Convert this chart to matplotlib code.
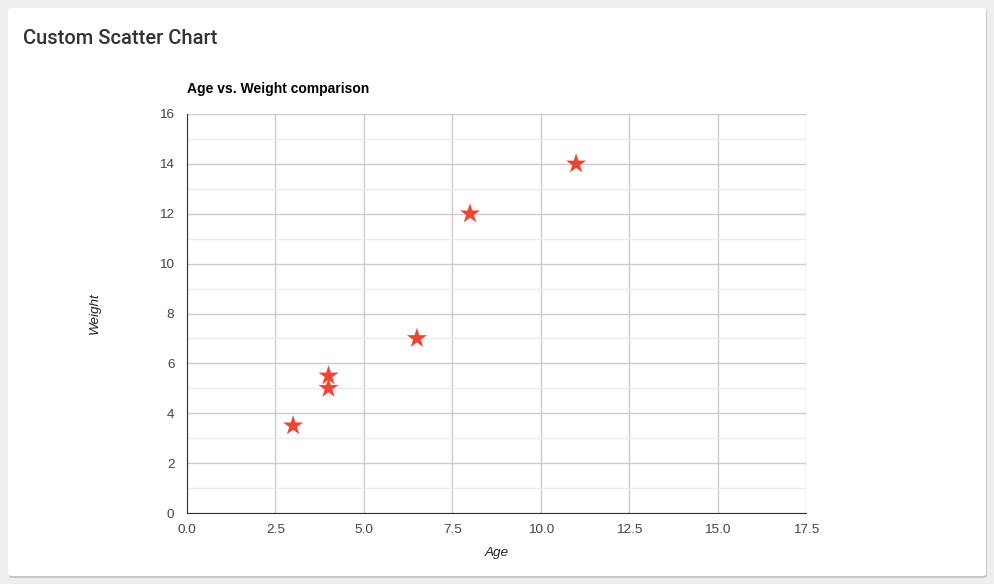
import matplotlib
matplotlib.use('Agg')
import matplotlib.pyplot as plt
from matplotlib.patches import FancyBboxPatch
from matplotlib.ticker import MultipleLocator, FormatStrFormatter

# Data
age = [3, 4, 4, 6.5, 8, 11]
weight = [3.5, 5.5, 5, 7, 12, 14]

W, H = 995, 584
fig = plt.figure(figsize=(W / 100, H / 100), dpi=100)
fig.patch.set_facecolor('#eeeeee')

# card with a soft shadow
shadow = FancyBboxPatch((9 / W, 1 - 578 / H), 978 / W, 569 / H,
                        boxstyle='round,pad=0,rounding_size=0.004',
                        transform=fig.transFigure, facecolor='#c8c8c8',
                        edgecolor='none', zorder=-2)
card = FancyBboxPatch((8 / W, 1 - 576 / H), 978 / W, 568 / H,
                      boxstyle='round,pad=0,rounding_size=0.004',
                      transform=fig.transFigure, facecolor='white',
                      edgecolor='none', zorder=-1)
fig.patches.extend([shadow, card])

fig.text(23 / W, 1 - 38 / H, 'Custom Scatter Chart', fontsize=14.5,
         family='Roboto', fontweight='medium', color='#333333',
         va='center', ha='left')

ax = fig.add_axes([187 / W, 1 - 513 / H, 619 / W, 399 / H])
ax.set_facecolor('white')

ax.scatter(age, weight, marker='*', s=230, color='#ee4433',
           edgecolors='none', zorder=3, clip_on=False)

ax.set_xlim(0, 17.5)
ax.set_ylim(0, 16)
ax.xaxis.set_major_locator(MultipleLocator(2.5))
ax.xaxis.set_major_formatter(FormatStrFormatter('%.1f'))
ax.yaxis.set_major_locator(MultipleLocator(2))
ax.yaxis.set_minor_locator(MultipleLocator(1))

ax.grid(which='major', color='#cccccc', linewidth=1)
ax.grid(which='minor', axis='y', color='#ebebeb', linewidth=1)
ax.set_axisbelow(True)

for side in ['top', 'right']:
    ax.spines[side].set_visible(False)
ax.spines['left'].set_color('#333333')
ax.spines['bottom'].set_color('#333333')

ax.tick_params(which='both', length=0, labelsize=9.7, labelcolor='#444444')
ax.tick_params(axis='x', pad=8)
ax.tick_params(axis='y', pad=9)
for lab in ax.get_xticklabels() + ax.get_yticklabels():
    lab.set_family('Liberation Sans')

ax.set_xlabel('Age', fontsize=9.7, style='italic', family='Liberation Sans',
              color='#222222', labelpad=8)
ax.set_ylabel('Weight', fontsize=9.7, style='italic', family='Liberation Sans',
              color='#222222', labelpad=42)
ax.set_title('Age vs. Weight comparison', fontsize=10, fontweight='bold',
             family='Liberation Sans', loc='left', pad=15, color='black')

fig.savefig('out.png', dpi=100, facecolor=fig.get_facecolor())
